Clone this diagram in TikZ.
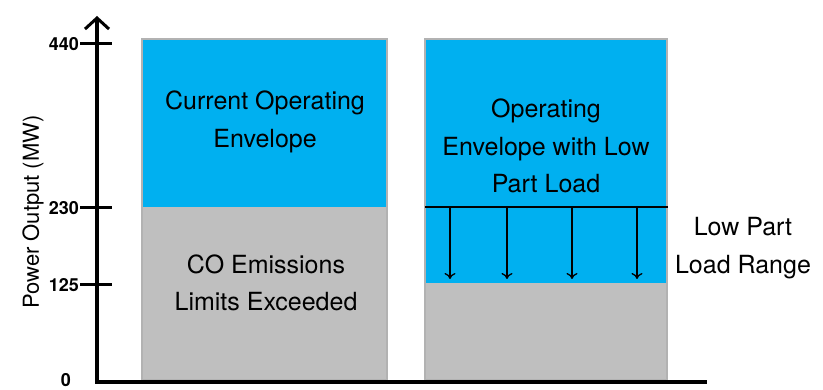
\documentclass[tikz,border=0pt]{standalone}
\usepackage{fontspec}
\setmainfont{TeX Gyre Heros}
\usetikzlibrary{arrows.meta}
\definecolor{envblue}{HTML}{00B0F0}
\definecolor{limgray}{HTML}{BFBFBF}
\definecolor{edgegray}{HTML}{B2B2B2}
\begin{document}
\begin{tikzpicture}[x=1pt,y=-1pt,
  bigtext/.style={font=\fontsize{25}{37.5}\selectfont, align=center, inner sep=0pt},
  ticklabel/.style={font=\fontsize{18}{18}\selectfont\bfseries, anchor=east, inner sep=0pt},
  axisline/.style={line width=3.5pt},
  tickline/.style={line width=3pt},
  downarrow/.style={line width=1.3pt, -{To[length=6pt,width=11pt,line width=1.3pt]}}]
\useasboundingbox (0,0) rectangle (823,390);
% bars
\fill[limgray] (142,39) rectangle (387,380);
\fill[envblue] (142,39) rectangle (387,207);
\draw[edgegray, line width=1.5pt] (142,39) rectangle (387,380);
\fill[limgray] (425,39) rectangle (667,380);
\fill[envblue] (425,39) rectangle (667,283);
\draw[edgegray, line width=1.5pt] (425,39) rectangle (667,380);
% low part load line and arrows
\coordinate (lineL) at (425,207);
\coordinate (lineR) at (668,207);
\draw[line width=1.5pt] (lineL) -- (lineR);
\foreach \i/\x in {1/450,2/507,3/572,4/637}{
  \coordinate (as\i) at (\x,207);
  \coordinate (ae\i) at (\x,279);
  \draw[downarrow] (as\i) -- (ae\i);
}
% axes
\coordinate (origin) at (97,382);
\coordinate (ytip) at (97,16);
\coordinate (xend) at (707,382);
\draw[axisline, -{Straight Barb[length=11pt,width=24pt,line width=3pt]}] (origin) -- (ytip);
\draw[axisline] ([xshift=-1.75pt]origin) -- (xend);
% ticks
\foreach \n/\y in {440/44,230/208,125/285}{
  \coordinate (tl\n) at (80,\y);
  \coordinate (tr\n) at (112,\y);
  \draw[tickline] (tl\n) -- (tr\n);
  \node[ticklabel] (lab\n) at (79,\y) {\n};
}
\node[ticklabel] (lab0) at (71,380) {0};
\node[font=\fontsize{22}{24}\selectfont, rotate=90, inner sep=0pt] (ylabel) at (33,212) {Power Output (MW)};
% texts
\node[bigtext] (cur) at (265,122) {Current Operating\\Envelope};
\node[bigtext] (co) at (266,283) {CO Emissions\\Limits Exceeded};
\node[bigtext] (ope) at (546,146) {Operating\\Envelope with Low\\Part Load};
\node[bigtext] (lpl) at (743,248) {Low Part\\Load Range};
\end{tikzpicture}
\end{document}
